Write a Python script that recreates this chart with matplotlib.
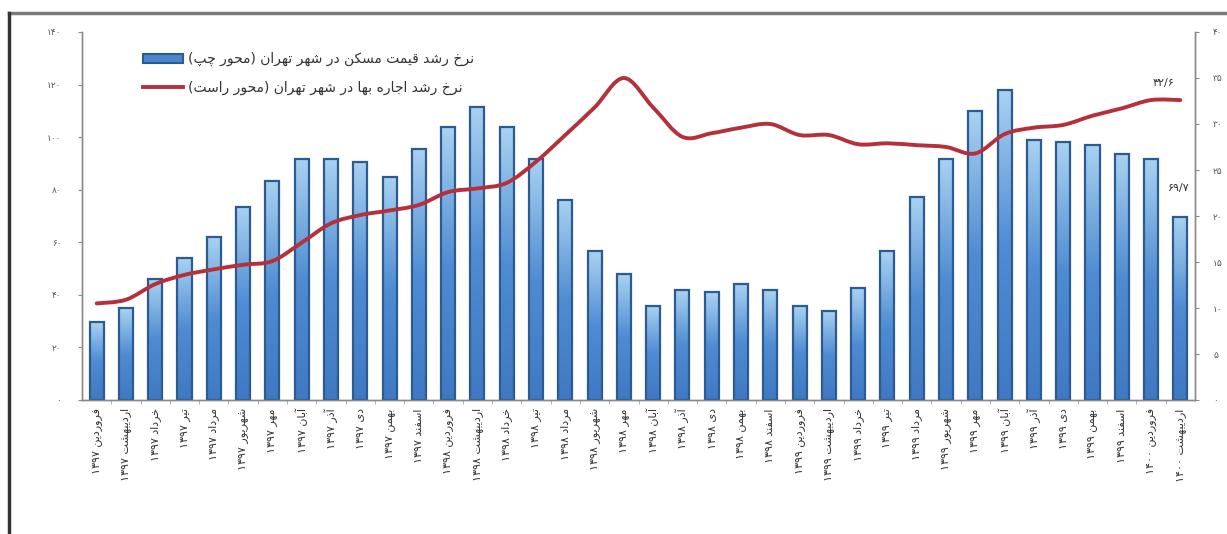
import re

import numpy as np
import matplotlib
matplotlib.use("Agg")
from matplotlib import pyplot as plt
from matplotlib.patches import Rectangle, PathPatch
from matplotlib.path import Path
from matplotlib.lines import Line2D
from matplotlib.colors import LinearSegmentedColormap

# ---- data ----
month_names = ["فروردین", "اردیبهشت", "خرداد", "تیر", "مرداد", "شهریور",
               "مهر", "آبان", "آذر", "دی", "بهمن", "اسفند"]
years = ["۱۳۹۷", "۱۳۹۸", "۱۳۹۹", "۱۴۰۰"]
n_last_year_months = 2

price_growth = [29.5, 35.0, 45.9, 54.1, 61.9, 73.6, 83.5, 91.7, 91.7, 90.6,
                84.9, 95.5, 103.8, 111.3, 103.8, 91.7, 76.1, 56.6, 47.8, 35.8,
                41.8, 40.9, 44.3, 41.8, 35.8, 34.0, 42.5, 56.6, 77.2, 91.8,
                110.0, 118.0, 99.1, 98.1, 97.1, 93.7, 91.8, 69.7]
rent_growth = [10.5, 10.9, 12.6, 13.6, 14.2, 14.7, 15.1, 17.1, 19.2, 20.1,
               20.6, 21.2, 22.6, 23.0, 23.6, 25.9, 28.8, 31.8, 35.0, 31.8,
               28.6, 29.0, 29.6, 30.0, 28.8, 28.8, 27.8, 27.9, 27.7, 27.5,
               26.8, 28.9, 29.6, 29.9, 30.9, 31.7, 32.6, 32.6]

legend_price = "نرخ رشد قیمت مسکن در شهر تهران (محور چپ)"
legend_rent = "نرخ رشد اجاره بها در شهر تهران (محور راست)"
label_rent_last = "۳۲/۶"
label_price_last = "۶۹/۷"

left_ticks = [0, 20, 40, 60, 80, 100, 120, 140]
right_ticks = [0, 5, 10, 15, 20, 25, 30, 35, 40]

# ---- minimal arabic shaping (matplotlib has no bidi / joining) ----
FORMS = {
    "ا": ("\uFE8D", "\uFE8E", None, None), "آ": ("\uFE81", "\uFE82", None, None),
    "ب": ("\uFE8F", "\uFE90", "\uFE91", "\uFE92"), "پ": ("\uFB56", "\uFB57", "\uFB58", "\uFB59"),
    "ت": ("\uFE95", "\uFE96", "\uFE97", "\uFE98"), "ج": ("\uFE9D", "\uFE9E", "\uFE9F", "\uFEA0"),
    "چ": ("\uFB7A", "\uFB7B", "\uFB7C", "\uFB7D"), "ح": ("\uFEA1", "\uFEA2", "\uFEA3", "\uFEA4"),
    "خ": ("\uFEA5", "\uFEA6", "\uFEA7", "\uFEA8"), "د": ("\uFEA9", "\uFEAA", None, None),
    "ذ": ("\uFEAB", "\uFEAC", None, None), "ر": ("\uFEAD", "\uFEAE", None, None),
    "ز": ("\uFEAF", "\uFEB0", None, None), "س": ("\uFEB1", "\uFEB2", "\uFEB3", "\uFEB4"),
    "ش": ("\uFEB5", "\uFEB6", "\uFEB7", "\uFEB8"), "ف": ("\uFED1", "\uFED2", "\uFED3", "\uFED4"),
    "ق": ("\uFED5", "\uFED6", "\uFED7", "\uFED8"), "ک": ("\uFB8E", "\uFB8F", "\uFB90", "\uFB91"),
    "م": ("\uFEE1", "\uFEE2", "\uFEE3", "\uFEE4"), "ن": ("\uFEE5", "\uFEE6", "\uFEE7", "\uFEE8"),
    "ه": ("\uFEE9", "\uFEEA", "\uFEEB", "\uFEEC"), "و": ("\uFEED", "\uFEEE", None, None),
    "ی": ("\uFBFC", "\uFBFD", "\uFBFE", "\uFBFF"),
}


def shape(s):
    out = []
    for i, c in enumerate(s):
        if c not in FORMS:
            out.append(c)
            continue
        f = FORMS[c]
        prev = s[i - 1] if i > 0 else ""
        nxt = s[i + 1] if i < len(s) - 1 else ""
        jp = prev in FORMS and FORMS[prev][2] is not None
        jn = f[2] is not None and nxt in FORMS
        if jp and jn:
            out.append(f[3])
        elif jp:
            out.append(f[1])
        elif jn:
            out.append(f[2])
        else:
            out.append(f[0])
    return "".join(out)


def fa(s):
    tokens = re.findall(r"[0-9۰-۹/]+|[^0-9۰-۹/]+", shape(s))
    res = []
    for t in reversed(tokens):
        if re.match(r"[0-9۰-۹]", t):
            res.append(t)
        else:
            res.append(t[::-1].translate(str.maketrans("()", ")(")))
    return "".join(res)


def fa_num(v):
    return str(v).translate(str.maketrans("0123456789", "۰۱۲۳۴۵۶۷۸۹"))


def smooth_path(xs, ys):
    # catmull-rom through the data points, drawn as cubic bezier segments
    xs, ys = np.asarray(xs, float), np.asarray(ys, float)
    verts = [(xs[0], ys[0])]
    codes = [Path.MOVETO]
    n = len(xs)
    for i in range(n - 1):
        p0 = (xs[max(i - 1, 0)], ys[max(i - 1, 0)])
        p1 = (xs[i], ys[i])
        p2 = (xs[i + 1], ys[i + 1])
        p3 = (xs[min(i + 2, n - 1)], ys[min(i + 2, n - 1)])
        c1 = (p1[0] + (p2[0] - p0[0]) / 6, p1[1] + (p2[1] - p0[1]) / 6)
        c2 = (p2[0] - (p3[0] - p1[0]) / 6, p2[1] - (p3[1] - p1[1]) / 6)
        verts += [c1, c2, p2]
        codes += [Path.CURVE4] * 3
    return Path(verts, codes)


labels = []
for y in years[:-1]:
    labels += [f"{m} {y}" for m in month_names]
labels += [f"{m} {years[-1]}" for m in month_names[:n_last_year_months]]

plt.rcParams["font.family"] = ["DejaVu Sans"]

W, H = 1227, 534
fig = plt.figure(figsize=(W / 100, H / 100), dpi=100)
fig.patch.set_facecolor("white")

# outer frame of the original screenshot (top and left edges only)
fig.lines.append(Line2D([9 / W, 1.0], [1 - 13 / H, 1 - 13 / H], transform=fig.transFigure,
                        color="#7a7a7a", linewidth=2.5))
fig.lines.append(Line2D([9 / W, 9 / W], [0, 1 - 13 / H], transform=fig.transFigure,
                        color="#333333", linewidth=2.5))

ax = fig.add_axes([82 / W, (H - 400) / H, (1195 - 82) / W, (400 - 32) / H])
ax2 = ax.twinx()

x = np.arange(len(price_growth))
bar_w = 0.48
bars = ax.bar(x, price_growth, width=bar_w, color="#4a86cc", linewidth=0, zorder=2)

cmap = LinearSegmentedColormap.from_list("barfill", ["#3f79c2", "#4f8cd2", "#a9d2f1"])
grad = np.linspace(0, 1, 128).reshape(-1, 1)
for b in bars:
    x0, y0 = b.get_x(), b.get_y()
    im = ax.imshow(grad, extent=[x0, x0 + b.get_width(), y0, y0 + b.get_height()],
                   origin="lower", aspect="auto", cmap=cmap, zorder=2.5)
    im.set_clip_path(b)
ax.bar(x, price_growth, width=bar_w, facecolor="none", edgecolor="#2c5a92",
       linewidth=1.6, zorder=3)

ax.set_xlim(-0.5, len(x) - 0.5)
ax.set_ylim(0, 140)
ax2.set_ylim(0, 40)

ax2.add_patch(PathPatch(smooth_path(x, rent_growth), fill=False, edgecolor="#b5303a",
                        linewidth=2.8, joinstyle="round", capstyle="round", zorder=4))

# value labels at the right end
ax2.text(x[-1] - 0.2, rent_growth[-1] + 1.3, label_rent_last, ha="right", va="bottom",
         fontsize=8, color="#333333")
ax.text(x[-1] - 0.05, price_growth[-1] + 9, label_price_last, ha="center", va="bottom",
        fontsize=8, color="#333333", zorder=5)

# axes styling
for a in (ax, ax2):
    a.spines["top"].set_visible(False)
    for s in ("left", "right", "bottom"):
        a.spines[s].set_color("#8a8a8a")
        a.spines[s].set_linewidth(1.0)

ax.set_yticks(left_ticks)
ax.set_yticklabels([fa_num(v) for v in left_ticks])
ax.tick_params(axis="y", direction="out", length=3, pad=12, labelsize=6.5,
               colors="#8a8a8a", labelcolor="#555555")
ax2.set_yticks(right_ticks)
ax2.set_yticklabels([fa_num(v) for v in right_ticks])
ax2.tick_params(axis="y", direction="out", length=3, pad=10, labelsize=6.5,
                colors="#8a8a8a", labelcolor="#555555")

ax.set_xticks(x)
ax.set_xticklabels([fa(l) for l in labels], rotation=90, fontsize=8, color="#333333")
ax.tick_params(axis="x", length=0, pad=6)
ax.set_xticks(x[:-1] + 0.5, minor=True)
ax.tick_params(axis="x", which="minor", length=3, color="#c79a72", direction="out")

# legend
handles = [Rectangle((0, 0), 1, 1, facecolor="#4a86cc", edgecolor="#2c5a92", linewidth=1.5),
           Line2D([0], [0], color="#b5303a", linewidth=2.8)]
leg = ax2.legend(handles, [fa(legend_price), fa(legend_rent)], loc="upper left",
                 bbox_to_anchor=(0.055, 0.945), frameon=False, fontsize=10,
                 handlelength=2.9, handleheight=0.6, handletextpad=0.3,
                 labelspacing=1.05, borderpad=0, borderaxespad=0)
for t in leg.get_texts():
    t.set_color("#333333")

fig.savefig("out.png", dpi=100)
